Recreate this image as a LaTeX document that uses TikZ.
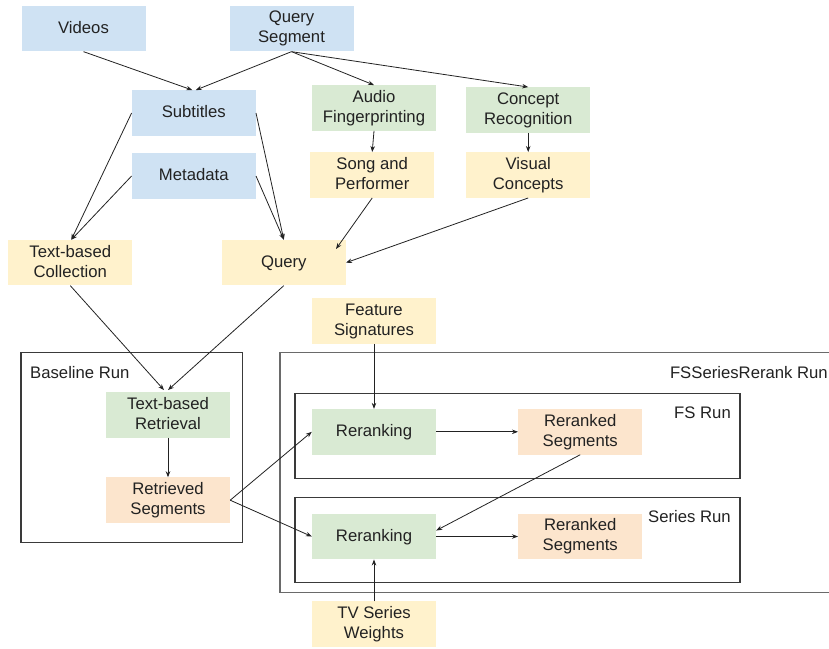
\documentclass[tikz,border=0pt]{standalone}
\usepackage{fontspec}
\setmainfont{Liberation Sans}
\usetikzlibrary{arrows.meta,calc}
\definecolor{cblue}{HTML}{CFE2F3}
\definecolor{cgreen}{HTML}{D9EAD3}
\definecolor{cyellow}{HTML}{FFF2CC}
\definecolor{corange}{HTML}{FCE5CD}
\definecolor{ctext}{HTML}{222222}
\definecolor{cframe}{HTML}{3A3A3A}
\definecolor{couter}{HTML}{6A6A6A}
\newcommand{\boxstrut}{\rule[-3.5pt]{0pt}{16.5pt}}
\begin{document}
\begin{tikzpicture}[x=1pt,y=-1pt,
  box/.style={rectangle, minimum width=124pt, minimum height=45.5pt, inner sep=0pt,
    align=center, text=ctext, font=\fontsize{16.7}{20}\selectfont,
    execute at begin node={\boxstrut}, execute at end node={\boxstrut}},
  bluebox/.style={box, fill=cblue},
  greenbox/.style={box, fill=cgreen},
  yellowbox/.style={box, fill=cyellow},
  orangebox/.style={box, fill=corange},
  lbl/.style={inner sep=0pt, text=ctext, font=\fontsize{16.7}{20}\selectfont},
  frame/.style={draw=cframe, line width=1.2pt},
  arr/.style={-{Stealth[length=6pt,width=4.5pt]}, line width=0.8pt, draw=ctext}]
\useasboundingbox (0,0) rectangle (829,648);

% containers
\draw[frame] (21,352.7) rectangle (242.3,542.7);
\draw[draw=couter, line width=1.5pt] (829,352.7) -- (280,352.7) -- (280,592.3) -- (829,592.3);
\draw[frame] (295,393.3) rectangle (740,478.3);
\draw[frame] (295,497.3) rectangle (740,582.7);

\node[lbl, anchor=west] (lbase) at (30,373) {Baseline Run};
\node[lbl, anchor=east] (lfss) at (828,372.5) {FSSeriesRerank Run};
\node[lbl, anchor=east] (lfs) at (731,413) {FS Run};
\node[lbl, anchor=east] (lser) at (731,516.5) {Series Run};

% nodes
\node[bluebox] (vid) at (83.5,28.7) {Videos};
\node[bluebox] (qs) at (291.5,28.7) {Query\\Segment};
\node[bluebox] (sub) at (193.8,113) {Subtitles};
\node[bluebox] (meta) at (193.8,176) {Metadata};
\node[greenbox] (audio) at (374,108) {Audio\\Fingerprinting};
\node[greenbox] (concept) at (528.2,110) {Concept\\Recognition};
\node[yellowbox] (song) at (372.2,175) {Song and\\Performer};
\node[yellowbox] (visual) at (528.2,175) {Visual\\Concepts};
\node[yellowbox] (tbc) at (70.3,262.7) {Text-based\\Collection};
\node[yellowbox] (query) at (283.8,262.7) {Query};
\node[yellowbox] (feat) at (374,321) {Feature\\Signatures};
\node[greenbox] (tbr) at (168,415) {Text-based\\Retrieval};
\node[orangebox] (rs) at (168,500.2) {Retrieved\\Segments};
\node[greenbox] (rr1) at (374,431.8) {Reranking};
\node[orangebox] (rs1) at (580.2,431.8) {Reranked\\Segments};
\node[greenbox] (rr2) at (374,536.5) {Reranking};
\node[orangebox] (rs2) at (580.2,536.5) {Reranked\\Segments};
\node[yellowbox] (tv) at (374,624.2) {TV Series\\Weights};

\coordinate (qin) at (336,249);

% connectors
\draw[arr] (vid.south) -- ([xshift=-1.5pt]sub.north);
\draw[arr] (qs.south) -- ([xshift=2pt]sub.north);
\draw[arr] (qs.south) -- (audio.north);
\draw[arr] (qs.south) -- (concept.north);
\draw[arr] (sub.west) -- ([xshift=1pt]tbc.north);
\draw[arr] (meta.west) -- ([xshift=1pt]tbc.north);
\draw[arr] (sub.east) -- (query.north);
\draw[arr] (meta.east) -- (query.north);
\draw[arr] (audio.south) -- (song.north);
\draw[arr] (concept.south) -- (visual.north);
\draw[arr] (song.south) -- (qin);
\draw[arr] (visual.south) -- (query.east);
\draw[arr] (tbc.south) -- ([xshift=-4pt,yshift=2pt]tbr.north);
\draw[arr] (query.south) -- ([xshift=0pt,yshift=2pt]tbr.north);
\draw[arr] (tbr.south) -- (rs.north);
\draw[arr] (rs.east) -- (rr1.west);
\draw[arr] (rs.east) -- (rr2.west);
\draw[arr] (rr1.east) -- (rs1.west);
\draw[arr] (rr2.east) -- (rs2.west);
\draw[arr] (rs1.south) -- ([yshift=6pt]rr2.east);
\draw[arr] (feat.south) -- (rr1.north);
\draw[arr] (tv.north) -- (rr2.south);
\end{tikzpicture}
\end{document}
